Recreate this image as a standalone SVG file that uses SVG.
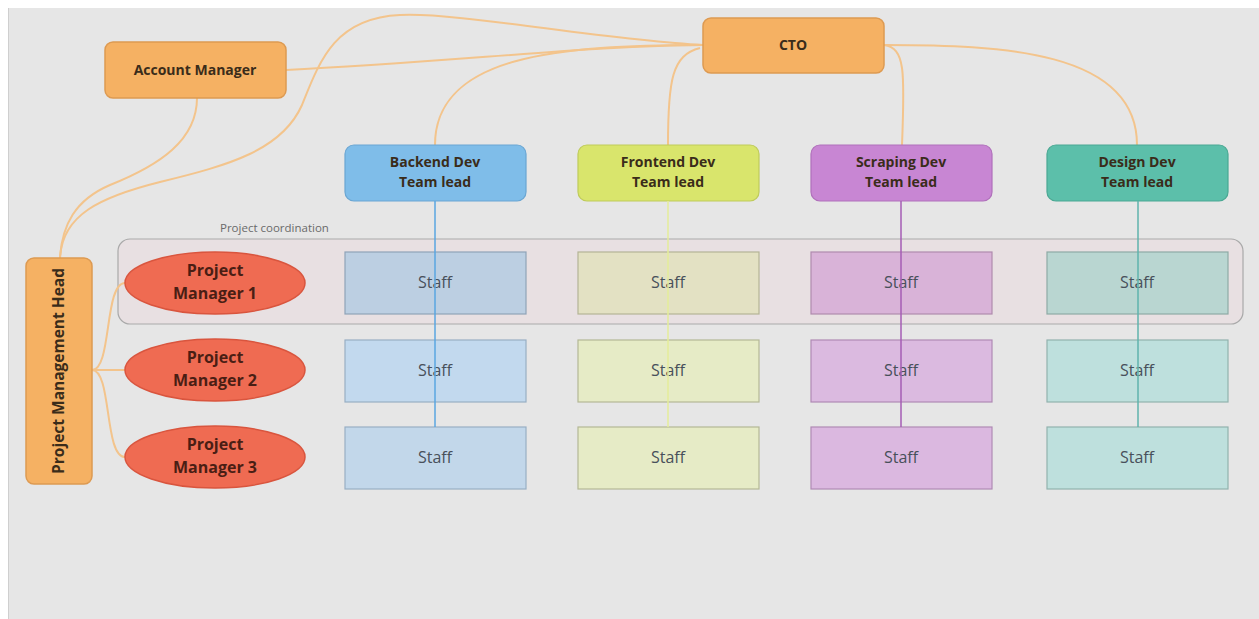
<svg xmlns="http://www.w3.org/2000/svg" width="1259" height="619" viewBox="0 0 1259 619">
  <style>
    .lbl { font-family: "Open Sans", "Liberation Sans", sans-serif; font-weight: 700; font-size: 14px; fill: #3a2c1a; text-anchor: middle; }
    .head { font-size: 15.5px; }
    .pm { font-family: "Open Sans", "Liberation Sans", sans-serif; font-weight: 700; font-size: 16px; fill: #4a1e14; text-anchor: middle; }
    .staff { font-family: "Open Sans", "Liberation Sans", sans-serif; font-size: 16px; fill: #48505a; text-anchor: middle; }
    .note { font-family: "Open Sans", "Liberation Sans", sans-serif; font-size: 11.5px; fill: #6a6a6a; }
    .orange { fill: #f5b163; stroke: #dd9a52; stroke-width: 1.5; }
    .ell { fill: #ef6b52; stroke: #d9553e; stroke-width: 1.5; }
    .link { fill: none; stroke: #f3c48c; stroke-width: 2; }
    .vline { fill: none; stroke-width: 1.5; }
    .box { stroke-width: 1.2; }
  </style>

  <!-- page background -->
  <rect x="0" y="0" width="1259" height="619" fill="#ffffff"/>
  <rect x="8" y="8" width="1251" height="611" fill="#e6e6e6"/>
  <line x1="8.5" y1="8" x2="8.5" y2="619" stroke="#cfcfcf" stroke-width="1"/>

  <!-- project coordination band -->
  <g id="coordination">
    <rect x="118" y="239" width="1125" height="85" rx="12" fill="#ead9dd" fill-opacity="0.45" stroke="#a9a9a9" stroke-width="1.2"/>
    <text class="note" x="220" y="232">Project coordination</text>
  </g>

  <!-- connectors -->
  <g id="connectors">
    <path class="link" d="M703,45 C 600,40 460,12 400,15 C 335,18 320,60 302,105 C 282,150 230,165 160,182 C 100,197 62,215 60,258"/>
    <path class="link" d="M197,98 C 197,140 160,165 110,185 C 75,200 62,225 60,258"/>
    <path class="link" d="M286,70 C 450,62 600,45 703,45"/>
    <path class="link" d="M703,45 C 560,45 435,55 435,145"/>
    <path class="link" d="M700,48 C 672,55 668,80 668,145"/>
    <path class="link" d="M884,45 C 905,48 905,70 902,145"/>
    <path class="link" d="M884,45 C 1000,45 1137,50 1137,145"/>
    <path class="link" d="M92,370 C 112,370 104,283 125,283"/>
    <path class="link" d="M92,370 L125,370"/>
    <path class="link" d="M92,370 C 112,370 104,457 125,457"/>
  </g>

  <!-- top level -->
  <g id="account-manager">
    <rect class="orange" x="105" y="42" width="181" height="56" rx="8"/>
    <text class="lbl" x="195" y="75">Account Manager</text>
  </g>
  <g id="cto">
    <rect class="orange" x="703" y="18" width="181" height="55" rx="8"/>
    <text class="lbl" x="793" y="50">CTO</text>
  </g>

  <!-- team leads -->
  <g id="backend-lead">
    <rect x="345" y="145" width="181" height="56" rx="9" fill="#7fbde9" stroke="#6aa6d3" stroke-width="1.2"/>
    <text class="lbl" x="435" y="167">Backend Dev</text>
    <text class="lbl" x="435" y="187">Team lead</text>
  </g>
  <g id="frontend-lead">
    <rect x="578" y="145" width="181" height="56" rx="9" fill="#d9e56c" stroke="#bfcb5a" stroke-width="1.2"/>
    <text class="lbl" x="668" y="167">Frontend Dev</text>
    <text class="lbl" x="668" y="187">Team lead</text>
  </g>
  <g id="scraping-lead">
    <rect x="811" y="145" width="181" height="56" rx="9" fill="#c886d3" stroke="#b070bb" stroke-width="1.2"/>
    <text class="lbl" x="901" y="167">Scraping Dev</text>
    <text class="lbl" x="901" y="187">Team lead</text>
  </g>
  <g id="design-lead">
    <rect x="1047" y="145" width="181" height="56" rx="9" fill="#5cbfaa" stroke="#4aa893" stroke-width="1.2"/>
    <text class="lbl" x="1137" y="167">Design Dev</text>
    <text class="lbl" x="1137" y="187">Team lead</text>
  </g>

  <!-- project management -->
  <g id="pm-head">
    <rect class="orange" x="26" y="258" width="66" height="226" rx="8"/>
    <text class="lbl head" x="0" y="0" transform="translate(64,371) rotate(-90)">Project Management Head</text>
  </g>
  <g id="pm1">
    <ellipse class="ell" cx="215" cy="283" rx="90" ry="31"/>
    <text class="pm" x="215" y="276">Project</text>
    <text class="pm" x="215" y="299">Manager 1</text>
  </g>
  <g id="pm2">
    <ellipse class="ell" cx="215" cy="370" rx="90" ry="31"/>
    <text class="pm" x="215" y="363">Project</text>
    <text class="pm" x="215" y="386">Manager 2</text>
  </g>
  <g id="pm3">
    <ellipse class="ell" cx="215" cy="457" rx="90" ry="31"/>
    <text class="pm" x="215" y="450">Project</text>
    <text class="pm" x="215" y="473">Manager 3</text>
  </g>

  <!-- staff: backend -->
  <g id="staff-backend-1"><rect class="box" x="345" y="252" width="181" height="62" fill="#bccfe2" stroke="#8fa3b8"/><text class="staff" x="435" y="288">Staff</text></g>
  <g id="staff-backend-2"><rect class="box" x="345" y="340" width="181" height="62" fill="#c2d9ee" stroke="#98afc4"/><text class="staff" x="435" y="376">Staff</text></g>
  <g id="staff-backend-3"><rect class="box" x="345" y="427" width="181" height="62" fill="#c2d7ea" stroke="#98afc4"/><text class="staff" x="435" y="463">Staff</text></g>

  <!-- staff: frontend -->
  <g id="staff-frontend-1"><rect class="box" x="578" y="252" width="181" height="62" fill="#e3e1c3" stroke="#b4b496"/><text class="staff" x="668" y="288">Staff</text></g>
  <g id="staff-frontend-2"><rect class="box" x="578" y="340" width="181" height="62" fill="#e6ebc6" stroke="#b4b896"/><text class="staff" x="668" y="376">Staff</text></g>
  <g id="staff-frontend-3"><rect class="box" x="578" y="427" width="181" height="62" fill="#e6ebc6" stroke="#b4b896"/><text class="staff" x="668" y="463">Staff</text></g>

  <!-- staff: scraping -->
  <g id="staff-scraping-1"><rect class="box" x="811" y="252" width="181" height="62" fill="#d9b3d8" stroke="#b08aae"/><text class="staff" x="901" y="288">Staff</text></g>
  <g id="staff-scraping-2"><rect class="box" x="811" y="340" width="181" height="62" fill="#dbbae0" stroke="#b08ab4"/><text class="staff" x="901" y="376">Staff</text></g>
  <g id="staff-scraping-3"><rect class="box" x="811" y="427" width="181" height="62" fill="#dbb8e0" stroke="#b08ab4"/><text class="staff" x="901" y="463">Staff</text></g>

  <!-- staff: design -->
  <g id="staff-design-1"><rect class="box" x="1047" y="252" width="181" height="62" fill="#b9d6d1" stroke="#8eaaa5"/><text class="staff" x="1137" y="288">Staff</text></g>
  <g id="staff-design-2"><rect class="box" x="1047" y="340" width="181" height="62" fill="#bee0dd" stroke="#92b2ae"/><text class="staff" x="1137" y="376">Staff</text></g>
  <g id="staff-design-3"><rect class="box" x="1047" y="427" width="181" height="62" fill="#bee0dd" stroke="#92b2ae"/><text class="staff" x="1137" y="463">Staff</text></g>

  <!-- team lead to staff lines -->
  <g id="team-lines">
    <line class="vline" x1="435" y1="201" x2="435" y2="427" stroke="#5aa6e0"/>
    <line class="vline" x1="668" y1="201" x2="668" y2="427" stroke="#e4ec9a"/>
    <line class="vline" x1="901" y1="201" x2="901" y2="427" stroke="#a45cb4"/>
    <line class="vline" x1="1138" y1="201" x2="1138" y2="427" stroke="#5fb3ad"/>
  </g>
</svg>
